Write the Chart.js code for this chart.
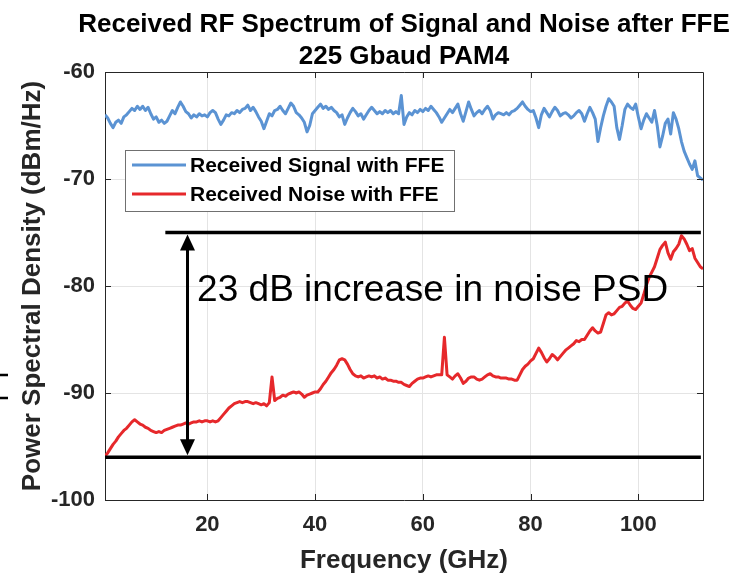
<!DOCTYPE html>
<html>
<head>
<meta charset="utf-8">
<title>Received RF Spectrum of Signal and Noise after FFE</title>
<script src="https://cdn.jsdelivr.net/npm/chart.js@4.4.1/dist/chart.umd.min.js"></script>
<style>
  html, body { margin: 0; padding: 0; background: #fff; }
  #wrap { width: 735px; height: 576px; }
</style>
</head>
<body>
<div id="wrap"><canvas id="psdChart" width="735" height="576"></canvas></div>
<script>
const FONT = '"Liberation Sans", Arial, Helvetica, sans-serif';
const AXIS = "#262626";
const GRID = "#e4e4e4";

const titleLines = ["Received RF Spectrum of Signal and Noise after FFE", "225 Gbaud PAM4"];
const xTitle = "Frequency (GHz)";
const yTitle = "Power Spectral Density (dBm/Hz)";
const seriesLabels = ["Received Signal with FFE", "Received Noise with FFE"];
const noteText = "23 dB increase in noise PSD";

const xTicks = [20, 40, 60, 80, 100];
const yTicks = [-100, -90, -80, -70, -60];

// frequency grid of the measured spectra (GHz)
const freqGHz = [
  1, 1.5, 2, 2.5, 3, 3.5, 4, 4.5, 5, 5.5,
  6, 6.5, 7, 7.5, 8, 8.5, 9, 9.5, 10, 10.5,
  11, 11.5, 12, 12.5, 13, 13.5, 14, 14.5, 15, 15.5,
  16, 16.5, 17, 17.5, 18, 18.5, 19, 19.5, 20, 20.5,
  21, 21.5, 22, 22.5, 23, 23.5, 24, 24.5, 25, 25.5,
  26, 26.5, 27, 27.5, 28, 28.5, 29, 29.5, 30, 30.5,
  31, 31.5, 32, 32.5, 33, 33.5, 34, 34.5, 35, 35.5,
  36, 36.5, 37, 37.5, 38, 38.5, 39, 39.5, 40, 40.5,
  41, 41.5, 42, 42.5, 43, 43.5, 44, 44.5, 45, 45.5,
  46, 46.5, 47, 47.5, 48, 48.5, 49, 49.5, 50, 50.5,
  51, 51.5, 52, 52.5, 53, 53.5, 54, 54.5, 55, 55.5,
  56, 56.5, 57, 57.5, 58, 58.5, 59, 59.5, 60, 60.5,
  61, 61.5, 62, 62.5, 63, 63.5, 64, 64.5, 65, 65.5,
  66, 66.5, 67, 67.5, 68, 68.5, 69, 69.5, 70, 70.5,
  71, 71.5, 72, 72.5, 73, 73.5, 74, 74.5, 75, 75.5,
  76, 76.5, 77, 77.5, 78, 78.5, 79, 79.5, 80, 80.5,
  81, 81.5, 82, 82.5, 83, 83.5, 84, 84.5, 85, 85.5,
  86, 86.5, 87, 87.5, 88, 88.5, 89, 89.5, 90, 90.5,
  91, 91.5, 92, 92.5, 93, 93.5, 94, 94.5, 95, 95.5,
  96, 96.5, 97, 97.5, 98, 98.5, 99, 99.5, 100, 100.5,
  101, 101.5, 102, 102.5, 103, 103.5, 104, 104.5, 105, 105.5,
  106, 106.5, 107, 107.5, 108, 108.5, 109, 109.5, 110, 110.5,
  111, 111.5, 112
];

// received signal PSD (dBm/Hz)
const signalPSD = [
  -64.0, -64.3, -64.8, -65.2, -64.7, -64.5, -64.8, -64.2, -64.0, -63.7,
  -63.4, -63.6, -63.2, -63.5, -63.2, -63.6, -63.3, -63.9, -64.4, -64.2,
  -64.7, -64.5, -64.8, -64.6, -64.1, -63.6, -63.9, -63.3, -62.8, -63.2,
  -63.7, -63.9, -64.3, -64.0, -64.2, -63.9, -64.1, -64.0, -64.2, -63.8,
  -63.6, -63.8, -64.4, -64.9, -64.5, -64.0, -64.1, -63.8, -63.9, -63.6,
  -63.8, -63.5, -63.4, -63.1, -63.6, -63.3, -63.7, -64.2, -64.6, -65.3,
  -64.6, -63.9, -64.1, -63.6, -63.5, -63.2, -63.6, -63.9, -63.4, -62.9,
  -63.2, -63.8, -64.0, -64.3, -64.7, -65.6, -65.0, -63.9, -63.6, -63.3,
  -63.0, -63.4, -63.2, -63.5, -63.3, -63.6, -63.8, -64.2, -64.0, -64.9,
  -64.3, -63.8, -63.4, -63.7, -64.1, -63.9, -64.4, -64.0, -63.6, -63.3,
  -63.6, -63.9, -63.7, -63.9, -63.6, -63.8, -63.6, -63.9, -63.7, -63.9,
  -62.2, -64.9, -64.2, -63.8, -64.0, -63.6, -63.8, -63.5, -63.7, -63.4,
  -63.6, -63.2, -63.5, -63.8, -64.2, -64.7, -64.3, -63.9, -63.5, -63.8,
  -63.4, -63.0, -63.9, -64.6, -63.7, -62.8, -63.5, -64.1, -63.8, -63.6,
  -63.9, -63.5, -63.2, -63.6, -64.4, -64.0, -63.8, -63.9, -64.0, -63.8,
  -64.0, -63.7, -63.6, -63.4, -63.1, -62.8, -63.2, -63.5, -63.7, -63.6,
  -64.3, -65.2, -64.0, -63.4, -63.8, -64.2, -63.7, -63.3, -63.6, -64.1,
  -63.9, -63.8, -64.0, -64.3, -64.1, -63.8, -63.6, -63.9, -64.6, -63.9,
  -63.3, -63.8, -64.4, -66.5, -65.2, -64.1, -63.2, -62.5, -62.8, -63.2,
  -65.2, -66.3, -65.0, -63.5, -63.0, -63.3, -63.5, -63.0, -64.2, -65.3,
  -64.5, -63.9, -64.3, -64.7, -63.6, -65.0, -67.0, -66.0, -64.8, -64.4,
  -65.8, -63.8, -64.4, -65.3, -66.5, -67.4, -68.0, -68.6, -69.1, -68.3,
  -69.7, -69.9, -70.1
];

// received noise PSD (dBm/Hz)
const noisePSD = [
  -95.9, -95.6, -95.2, -94.8, -94.5, -94.1, -93.8, -93.5, -93.3, -93.0,
  -92.7, -92.5, -92.7, -92.9, -93.0, -93.2, -93.3, -93.5, -93.6, -93.7,
  -93.6, -93.7, -93.5, -93.4, -93.3, -93.2, -93.1, -93.0, -93.0, -92.9,
  -92.8, -92.9, -92.8, -92.7, -92.7, -92.6, -92.7, -92.6, -92.6, -92.7,
  -92.6, -92.7, -92.6, -92.3, -92.0, -91.7, -91.4, -91.2, -91.0, -90.9,
  -90.8, -90.9, -90.8, -90.8, -90.9, -91.0, -90.9, -91.0, -91.1, -91.0,
  -91.2, -90.9, -88.5, -90.7, -90.5, -90.4, -90.2, -90.3, -90.1, -90.0,
  -89.9, -90.0, -89.9, -90.1, -90.4, -90.2, -90.1, -90.0, -89.9, -89.9,
  -89.6, -89.2, -88.9, -88.5, -88.1, -87.8, -87.4, -86.9, -86.8, -86.9,
  -87.3, -87.8, -88.2, -88.4, -88.5, -88.4, -88.6, -88.5, -88.4, -88.5,
  -88.4, -88.6, -88.5, -88.7, -88.6, -88.8, -88.8, -88.9, -88.9, -89.0,
  -89.0, -89.2, -89.3, -89.4, -89.1, -88.9, -88.7, -88.6, -88.6, -88.5,
  -88.4, -88.5, -88.4, -88.3, -88.3, -88.3, -84.8, -88.3, -88.5, -88.7,
  -88.4, -88.2, -88.6, -89.1, -88.9, -88.6, -88.5, -88.5, -88.7, -88.8,
  -88.7, -88.5, -88.3, -88.2, -88.4, -88.5, -88.5, -88.6, -88.6, -88.6,
  -88.7, -88.7, -88.8, -88.8, -88.3, -87.8, -87.5, -87.3, -87.0, -86.8,
  -86.3, -85.8, -86.2, -86.7, -87.1, -86.8, -86.4, -86.6, -86.9, -86.6,
  -86.3, -86.0, -85.8, -85.6, -85.4, -85.1, -85.2, -85.0, -85.0, -84.6,
  -84.2, -83.9, -84.2, -84.4, -84.3, -83.5, -82.7, -82.5, -82.7, -82.6,
  -82.3, -82.0, -81.9, -81.6, -81.4, -81.8, -82.1, -82.2, -81.9, -81.6,
  -80.8, -79.9, -79.2, -78.7, -78.2, -77.4, -76.6, -76.2, -75.9, -76.9,
  -77.5, -76.8, -76.5, -76.1, -75.3, -75.6, -76.1, -76.7, -76.5, -77.4,
  -77.8, -78.2, -78.4
];

// annotation: reference levels and where they are drawn
const refHighLevel = [-75, -75];
const refHighFreq = [12.2, 111.6];
const refLowLevel = [-96, -96];
const refLowFreq = [1, 111.6];
const arrowFreq = 16.2;
const notePos = { x: 18.1, y: -81.4 };

const toPoints = (xs, ys) => xs.map((x, i) => ({ x: x, y: ys[i] }));

// inner tick marks, top/right box, title, legend, arrow and note
const decorations = {
  id: "decorations",
  afterDatasetsDraw(chart) {
    const { ctx, chartArea: a, scales: { x, y } } = chart;
    ctx.save();

    // double-headed arrow
    const ax = Math.round(x.getPixelForValue(arrowFreq)) + 0.5;
    const yTop = y.getPixelForValue(refHighLevel[0]);
    const yBot = y.getPixelForValue(refLowLevel[0]);
    ctx.strokeStyle = "#000";
    ctx.fillStyle = "#000";
    ctx.lineWidth = 3;
    ctx.beginPath();
    ctx.moveTo(ax, yTop + 12);
    ctx.lineTo(ax, yBot - 12);
    ctx.stroke();
    ctx.beginPath();
    ctx.moveTo(ax, yTop + 2);
    ctx.lineTo(ax - 7.5, yTop + 18);
    ctx.lineTo(ax + 7.5, yTop + 18);
    ctx.closePath();
    ctx.fill();
    ctx.beginPath();
    ctx.moveTo(ax, yBot - 2);
    ctx.lineTo(ax - 7.5, yBot - 18);
    ctx.lineTo(ax + 7.5, yBot - 18);
    ctx.closePath();
    ctx.fill();

    // note text
    ctx.font = "37px " + FONT;
    ctx.textAlign = "left";
    ctx.textBaseline = "alphabetic";
    ctx.fillText(noteText, x.getPixelForValue(notePos.x), y.getPixelForValue(notePos.y));

    // legend
    const lx = a.left + 20, ly = a.top + 78, lw = 329, lh = 61;
    ctx.fillStyle = "#fff";
    ctx.fillRect(lx, ly, lw, lh);
    ctx.strokeStyle = "#707070";
    ctx.lineWidth = 1;
    ctx.strokeRect(lx + 0.5, ly + 0.5, lw, lh);
    ctx.font = "bold 21px " + FONT;
    ctx.textBaseline = "middle";
    [0, 1].forEach(i => {
      const ds = chart.data.datasets[i];
      const ry = ly + 15 + i * 29;
      ctx.strokeStyle = ds.borderColor;
      ctx.lineWidth = 3;
      ctx.beginPath();
      ctx.moveTo(lx + 7, ry);
      ctx.lineTo(lx + 61, ry);
      ctx.stroke();
      ctx.fillStyle = "#000";
      ctx.fillText(ds.label, lx + 65, ry + 1.5);
    });
    ctx.restore();
  },
  afterDraw(chart) {
    const { ctx, chartArea: a, scales: { x, y } } = chart;
    ctx.save();
    ctx.strokeStyle = AXIS;
    ctx.lineWidth = 1;
    ctx.beginPath();
    ctx.moveTo(a.left, a.top + 0.5);
    ctx.lineTo(a.right + 0.5, a.top + 0.5);
    ctx.lineTo(a.right + 0.5, a.bottom);
    x.ticks.forEach(t => {
      const px = Math.round(x.getPixelForValue(t.value)) + 0.5;
      ctx.moveTo(px, a.bottom); ctx.lineTo(px, a.bottom - 6);
      ctx.moveTo(px, a.top); ctx.lineTo(px, a.top + 6);
    });
    y.ticks.forEach(t => {
      const py = Math.round(y.getPixelForValue(t.value)) + 0.5;
      ctx.moveTo(a.left, py); ctx.lineTo(a.left + 6, py);
      ctx.moveTo(a.right, py); ctx.lineTo(a.right - 6, py);
    });
    ctx.stroke();

    // title
    ctx.fillStyle = "#000";
    ctx.font = "bold 26px " + FONT;
    ctx.textAlign = "center";
    ctx.textBaseline = "alphabetic";
    const cx = (a.left + a.right) / 2;
    ctx.fillText(titleLines[0], cx, 32);
    ctx.fillText(titleLines[1], cx, 64);

    // two stray dashes at the left edge of the figure
    ctx.strokeStyle = "#000";
    ctx.lineWidth = 2.5;
    ctx.beginPath();
    ctx.moveTo(0, 375); ctx.lineTo(8, 375);
    ctx.moveTo(0, 398); ctx.lineTo(8, 398);
    ctx.stroke();
    ctx.restore();
  }
};

new Chart(document.getElementById("psdChart"), {
  type: "line",
  data: {
    datasets: [
      {
        label: seriesLabels[0],
        data: toPoints(freqGHz, signalPSD),
        borderColor: "#5b93d3",
        borderWidth: 3,
        order: 2
      },
      {
        label: seriesLabels[1],
        data: toPoints(freqGHz, noisePSD),
        borderColor: "#e6282b",
        borderWidth: 3,
        order: 1
      },
      {
        label: "ref high",
        data: toPoints(refHighFreq, refHighLevel),
        borderColor: "#000",
        borderWidth: 3.5,
        order: 0
      },
      {
        label: "ref low",
        data: toPoints(refLowFreq, refLowLevel),
        borderColor: "#000",
        borderWidth: 3.5,
        order: 0
      }
    ]
  },
  options: {
    responsive: false,
    animation: false,
    devicePixelRatio: 1,
    layout: { padding: { top: 72, right: 32, bottom: 0, left: 0 } },
    elements: {
      point: { radius: 0 },
      line: { tension: 0, borderJoinStyle: "round", borderCapStyle: "butt" }
    },
    plugins: {
      legend: { display: false },
      title: { display: false },
      tooltip: { enabled: false }
    },
    scales: {
      x: {
        type: "linear",
        min: 1,
        max: 112,
        afterBuildTicks: s => { s.ticks = xTicks.map(v => ({ value: v })); },
        afterFit: s => { s.height = 76; },
        grid: { color: GRID, drawTicks: false },
        border: { color: AXIS, width: 1 },
        ticks: { color: AXIS, padding: 12, font: { family: FONT, size: 22, weight: "bold" } },
        title: {
          display: true, text: xTitle, color: AXIS,
          font: { family: FONT, size: 26, weight: "bold" },
          padding: { top: 0, bottom: 0 }
        }
      },
      y: {
        type: "linear",
        min: -100,
        max: -60,
        afterBuildTicks: s => { s.ticks = yTicks.map(v => ({ value: v })); },
        afterFit: s => { s.width = 105; },
        grid: { color: GRID, drawTicks: false },
        border: { color: AXIS, width: 1 },
        ticks: { color: AXIS, padding: 10, font: { family: FONT, size: 22, weight: "bold" } },
        title: {
          display: true, text: yTitle, color: AXIS,
          font: { family: FONT, size: 26, weight: "bold" },
          padding: { top: 17, bottom: 0 }
        }
      }
    }
  },
  plugins: [decorations]
});
</script>
</body>
</html>
